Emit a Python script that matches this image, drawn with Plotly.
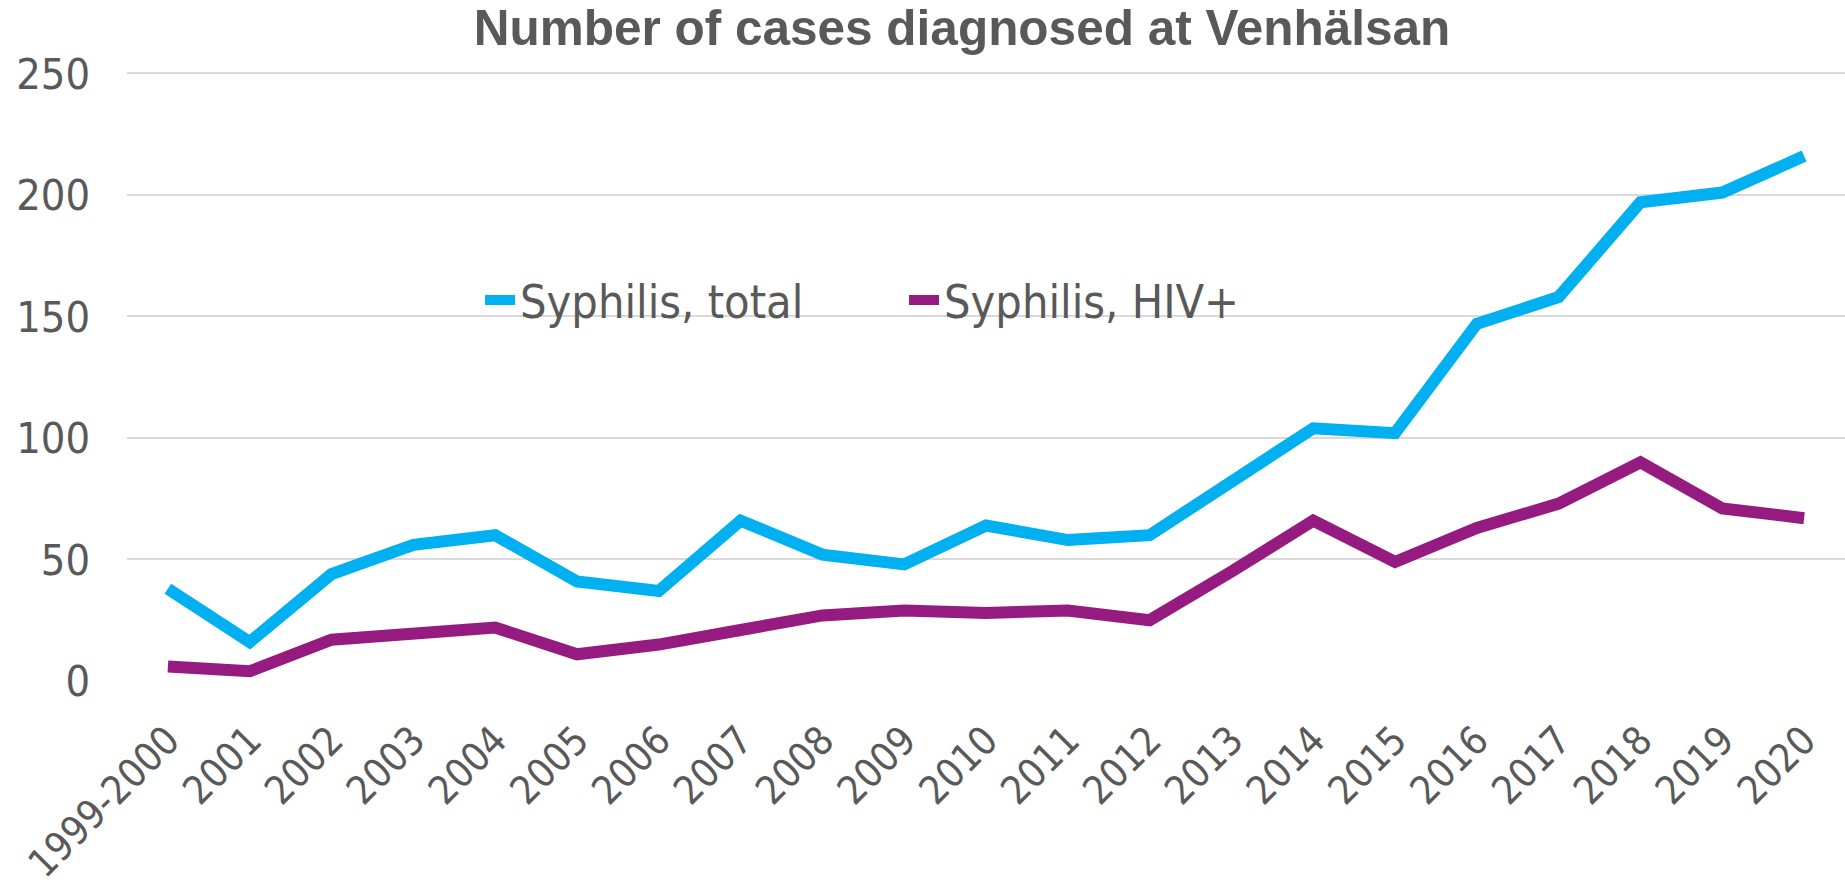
import plotly.graph_objects as go

categories = ["1999-2000", "2001", "2002", "2003", "2004", "2005", "2006", "2007",
              "2008", "2009", "2010", "2011", "2012", "2013", "2014", "2015",
              "2016", "2017", "2018", "2019", "2020"]
syphilis_total = [38, 16, 44, 56, 60, 41, 37, 66, 52, 48, 64, 58, 60, 82, 104, 102,
                  147, 158, 197, 201, 216]
syphilis_hiv = [6, 4, 17, 20, 22, 11, 15, 21, 27, 29, 28, 29, 25, 45, 66, 49,
                63, 73, 90, 71, 67]
y_ticks = [0, 50, 100, 150, 200, 250]

GRAY = "#595959"
FONT = "DejaVu Sans Condensed, DejaVu Sans, sans-serif"

fig = go.Figure()
fig.add_trace(go.Scatter(x=categories, y=syphilis_total, mode="lines",
                         name="Syphilis, total",
                         line=dict(color="#00B0F0", width=12)))
fig.add_trace(go.Scatter(x=categories, y=syphilis_hiv, mode="lines",
                         name="Syphilis, HIV+",
                         line=dict(color="#951B81", width=12)))

fig.update_layout(
    width=1845, height=885,
    margin=dict(l=127, r=0, t=72, b=204, autoexpand=False),
    paper_bgcolor="white", plot_bgcolor="white",
    title=dict(text="<b>Number of cases diagnosed at Venhälsan</b>",
               font=dict(family="Liberation Sans, Arial, sans-serif", size=49.5, color=GRAY),
               x=962 / 1845, xref="container", xanchor="center",
               y=1 - 28 / 885, yref="container", yanchor="middle"),
    showlegend=True,
    legend=dict(orientation="h", x=0.2055, y=0.625, xanchor="left", yanchor="middle",
                font=dict(family=FONT, size=46.5, color=GRAY),
                bgcolor="rgba(0,0,0,0)", entrywidth=379, entrywidthmode="pixels",
                traceorder="normal"),
    xaxis=dict(type="category", range=[-0.5, 20.5], tickangle=-45,
               tickfont=dict(family=FONT, size=39.5, color=GRAY),
               showgrid=False, showline=False, zeroline=False, automargin=False,
               ticks="", ticklabelstandoff=27),
    yaxis=dict(range=[0, 250.6], tickvals=y_ticks,
               tickfont=dict(family=FONT, size=43, color=GRAY),
               showgrid=True, gridcolor="#D9D9D9", gridwidth=2, automargin=False,
               zeroline=False, showline=False, ticks="",
               ticklabelstandoff=36),
)

fig.write_html("out.html",
               config={"displayModeBar": False},
               post_script="document.body.style.margin='0';document.body.style.overflow='hidden';")
